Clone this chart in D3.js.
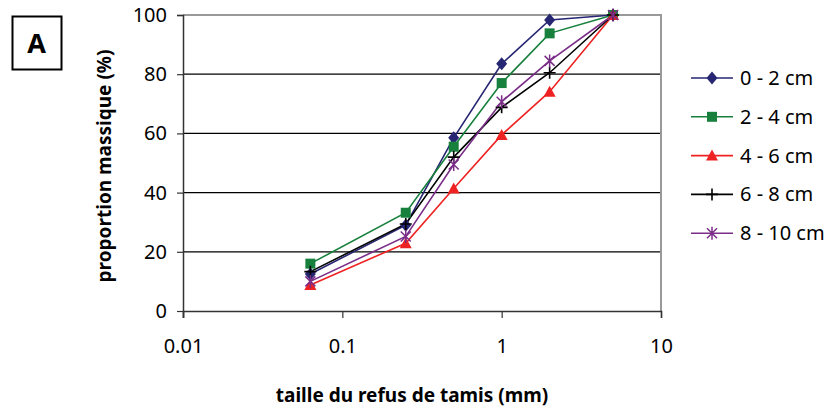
<!DOCTYPE html>
<html>
<head>
<meta charset="utf-8">
<script src="https://cdn.jsdelivr.net/npm/d3@7"></script>
<style>
  body { margin: 0; background: #fff; }
  svg { display: block; font-family: "Noto Sans", "DejaVu Sans", sans-serif; }
</style>
</head>
<body>
<div id="chart"></div>
<script>
// sieve sizes (mm) and cumulative mass proportion (%)
const sizes = [0.063, 0.25, 0.5, 1, 2, 5];
const series0_2 = [12.5, 29, 58.5, 83.5, 98.3, 100];
const series2_4 = [16, 33.2, 55.5, 77, 93.8, 100];
const series4_6 = [8.8, 22.9, 41.4, 59.5, 74.1, 100];
const series6_8 = [13.3, 29.4, 52, 68.8, 80.5, 100];
const series8_10 = [10, 25.2, 49.5, 70.7, 84.5, 100];
const seriesNames = ["0 - 2 cm", "2 - 4 cm", "4 - 6 cm", "6 - 8 cm", "8 - 10 cm"];
const xTicks = [0.01, 0.1, 1, 10];
const yTicks = [0, 20, 40, 60, 80, 100];

const width = 830;
const height = 414;
const margin = { top: 15, right: 169, bottom: 103, left: 183 };
const plotW = width - margin.left - margin.right;
const plotH = height - margin.top - margin.bottom;

const series = [
  { name: seriesNames[0], values: series0_2, color: "#262673", marker: "diamond" },
  { name: seriesNames[1], values: series2_4, color: "#17803c", marker: "square" },
  { name: seriesNames[2], values: series4_6, color: "#ee2222", marker: "triangle" },
  { name: seriesNames[3], values: series6_8, color: "#000000", marker: "plus" },
  { name: seriesNames[4], values: series8_10, color: "#7a2e88", marker: "star" }
];

const svg = d3.select("#chart")
  .append("svg")
  .attr("width", width)
  .attr("height", height);

const g = svg.append("g")
  .attr("transform", `translate(${margin.left}, ${margin.top})`);

const xScale = d3.scaleLog()
  .domain([0.01, 10])
  .range([0, plotW]);

const yScale = d3.scaleLinear()
  .domain([0, 100])
  .range([plotH, 0]);

// gridlines
g.selectAll("line.grid")
  .data(yTicks.filter(d => d > 0 && d < 100))
  .enter()
  .append("line")
  .attr("x1", 0)
  .attr("x2", plotW)
  .attr("y1", d => yScale(d))
  .attr("y2", d => yScale(d))
  .attr("stroke", "#000")
  .attr("stroke-width", 1.2);

// top and right border
g.append("path")
  .attr("d", `M0,${yScale(100)}H${plotW}V${plotH}`)
  .attr("fill", "none")
  .attr("stroke", "#999")
  .attr("stroke-width", 2);

// axes
const yAxis = g.append("g")
  .call(d3.axisLeft(yScale).tickValues(yTicks).tickSize(6).tickPadding(10));
const xAxis = g.append("g")
  .attr("transform", `translate(0, ${plotH})`)
  .call(d3.axisBottom(xScale).tickValues(xTicks).tickFormat(d => String(d)).tickSize(7).tickPadding(21));

[yAxis, xAxis].forEach(a => {
  a.select(".domain").attr("stroke", "#333").attr("stroke-width", 1.5);
  a.selectAll(".tick line").attr("stroke", "#333").attr("stroke-width", 1.2);
  a.selectAll("text").attr("font-size", 20).attr("fill", "#000")
    .attr("font-family", "'Noto Sans', sans-serif");
});
yAxis.select(".domain").attr("d", `M-6,0.5H0.5V${plotH + 7}`);

const shapes = {
  diamond: "M0,-6.5L5.5,0L0,6.5L-5.5,0Z",
  square: "M-5,-5H5V5H-5Z",
  triangle: "M0,-6L6,5H-6Z"
};

function drawMarker(sel, s) {
  if (s.marker === "plus") {
    sel.append("path")
      .attr("d", "M-6,0H6M0,-6V6")
      .attr("stroke", s.color)
      .attr("stroke-width", 1.6)
      .attr("fill", "none");
  } else if (s.marker === "star") {
    sel.append("path")
      .attr("d", "M-5,-5L5,5M-5,5L5,-5M0,-6.5V6.5")
      .attr("stroke", s.color)
      .attr("stroke-width", 1.5)
      .attr("fill", "none");
  } else {
    sel.append("path")
      .attr("d", shapes[s.marker])
      .attr("fill", s.color);
  }
}

const line = d3.line()
  .x((d, i) => xScale(sizes[i]))
  .y(d => yScale(d));

series.forEach(s => {
  g.append("path")
    .datum(s.values)
    .attr("fill", "none")
    .attr("stroke", s.color)
    .attr("stroke-width", 1.6)
    .attr("d", line);
});

series.forEach(s => {
  g.selectAll(null)
    .data(s.values)
    .enter()
    .append("g")
    .attr("transform", (d, i) => `translate(${xScale(sizes[i])}, ${yScale(d)})`)
    .each(function () { drawMarker(d3.select(this), s); });
});

// axis titles
svg.append("text")
  .attr("x", 412)
  .attr("y", 402)
  .attr("text-anchor", "middle")
  .attr("font-size", 19)
  .attr("font-weight", "bold")
  .text("taille du refus de tamis (mm)");

svg.append("text")
  .attr("transform", `translate(111, 166) rotate(-90)`)
  .attr("text-anchor", "middle")
  .attr("font-size", 19)
  .attr("font-weight", "bold")
  .text("proportion massique (%)");

// panel label
svg.append("rect")
  .attr("x", 12.5)
  .attr("y", 16.5)
  .attr("width", 49)
  .attr("height", 53)
  .attr("fill", "none")
  .attr("stroke", "#000")
  .attr("stroke-width", 2);
svg.append("text")
  .attr("x", 36.5)
  .attr("y", 53)
  .attr("text-anchor", "middle")
  .attr("font-size", 27)
  .attr("font-weight", "bold")
  .text("A");

// legend
const legend = svg.append("g")
  .selectAll("g")
  .data(series)
  .enter()
  .append("g")
  .attr("transform", (d, i) => `translate(691, ${78 + i * 38.8})`);

legend.append("line")
  .attr("x1", 0)
  .attr("x2", 42)
  .attr("stroke", d => d.color)
  .attr("stroke-width", 1.6);

legend.append("g")
  .attr("transform", "translate(21, 0)")
  .each(function (d) { drawMarker(d3.select(this), d); });

legend.append("text")
  .attr("x", 49)
  .attr("y", 7)
  .attr("font-size", 20)
  .text(d => d.name);
</script>
</body>
</html>
